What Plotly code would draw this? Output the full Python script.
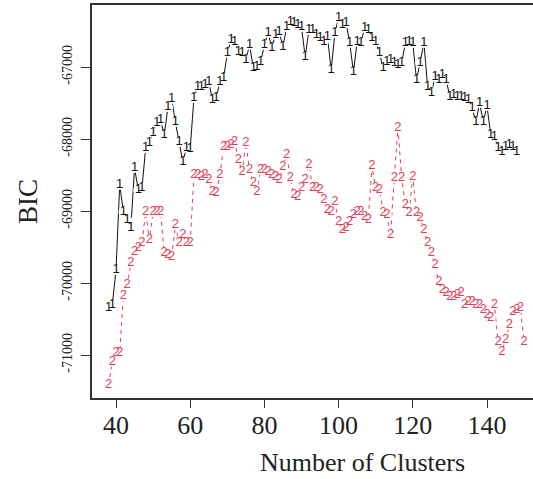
import plotly.graph_objects as go

# Number of clusters
k_model1 = list(range(38, 149))
k_model2 = list(range(38, 151))

bic_model1 = [
    -70347, -70306, -69819, -68639, -69014, -69125, -69236, -68403, -68708, -68681,
    -68125, -68056, -67917, -67778, -67736, -67944, -67556, -67444, -67764, -68042,
    -68319, -68125, -68139, -67431, -67278, -67278, -67250, -67208, -67458, -67431,
    -67208, -67153, -66806, -66625, -66653, -66792, -66806, -66903, -66694, -67014,
    -67000, -66931, -66694, -66528, -66736, -66556, -66514, -66722, -66444, -66375,
    -66389, -66417, -66444, -66861, -66486, -66486, -66556, -66597, -66653, -66583,
    -67042, -66528, -66319, -66417, -66389, -66667, -67069, -66653, -66667, -66458,
    -66486, -66597, -66653, -66806, -67014, -66931, -66903, -66944, -66972, -66944,
    -66667, -66653, -66667, -67181, -66944, -66667, -67278, -67361, -67139, -67181,
    -67111, -67181, -67417, -67389, -67417, -67417, -67431, -67458, -67569, -67764,
    -67500, -67764, -67542, -67944, -67972, -68125, -68181, -68111, -68083, -68111,
    -68181,
]

bic_model2 = [
    -71417, -71097, -70972, -70972, -70181, -70028, -69722, -69569, -69514, -69444,
    -69014, -69403, -69014, -69014, -69014, -69583, -69611, -69639, -69194, -69444,
    -69333, -69444, -69444, -68500, -68500, -68528, -68500, -68569, -68736, -68750,
    -68500, -68111, -68111, -68083, -68042, -68292, -68458, -68056, -68431, -68611,
    -68736, -68431, -68431, -68458, -68500, -68528, -68569, -68389, -68222, -68542,
    -68778, -68806, -68681, -68569, -68361, -68681, -68681, -68708, -68847, -68986,
    -69014, -68875, -69153, -69264, -69236, -69153, -69056, -69014, -69014, -69083,
    -69125, -68375, -68681, -68708, -69028, -69056, -69333, -68542, -67847, -68542,
    -68917, -69028, -68528, -69028, -69097, -69264, -69444, -69583, -69750, -69986,
    -70097, -70139, -70194, -70194, -70167, -70139, -70306, -70264, -70264, -70306,
    -70306, -70375, -70444, -70486, -70306, -70819, -70958, -70792, -70583, -70403,
    -70375, -70347, -70819,
]

x_tick_vals = [40, 60, 80, 100, 120, 140]
y_tick_vals = [-71000, -70000, -69000, -68000, -67000]
y_tick_text = ["-71000", "-70000", "-69000", "-68000", "-67000"]

BLACK = "#111111"
RED = "#E0405A"
SERIF = "Liberation Serif, Times New Roman, serif"
SANS = "Liberation Sans, Arial, sans-serif"

fig = go.Figure()

fig.add_trace(go.Scatter(
    x=k_model1, y=bic_model1, mode="lines+markers+text",
    text=["1"] * len(k_model1), textposition="middle center",
    textfont=dict(family=SANS, size=13, color=BLACK),
    line=dict(color=BLACK, width=1),
    marker=dict(size=10, color="white", line=dict(width=0)),
    showlegend=False, hoverinfo="skip",
))
fig.add_trace(go.Scatter(
    x=k_model2, y=bic_model2, mode="lines+markers+text",
    text=["2"] * len(k_model2), textposition="middle center",
    textfont=dict(family=SANS, size=13, color=RED),
    line=dict(color=RED, width=1, dash="4px,4px"),
    marker=dict(size=10, color="white", line=dict(width=0)),
    showlegend=False, hoverinfo="skip",
))

fig.update_layout(
    width=533, height=479,
    margin=dict(l=92, r=0, t=5, b=81),
    paper_bgcolor="white", plot_bgcolor="white",
    font=dict(family=SERIF, color="black"),
    annotations=[
        dict(text="Number of Clusters", xref="paper", yref="paper",
             x=0.6145, y=-0.163, xanchor="center", yanchor="middle",
             showarrow=False, font=dict(family=SERIF, size=26, color="#222")),
    ],
)

fig.update_xaxes(
    range=[33.53, 152.4], tickvals=x_tick_vals,
    ticks="outside", ticklen=8, tickwidth=1, tickcolor="#333",
    ticklabelstandoff=-5,
    tickfont=dict(family=SERIF, size=26, color="#222"),
    showgrid=False, zeroline=False,
    showline=True, linecolor="#333", linewidth=1.5, mirror=True,
)
fig.update_yaxes(
    range=[-71597, -66139], tickvals=y_tick_vals, ticktext=y_tick_text,
    ticks="outside", ticklen=9, tickwidth=1, tickcolor="#333",
    tickangle=-90, ticklabelstandoff=4,
    tickfont=dict(family=SERIF, size=14, color="#222"),
    showgrid=False, zeroline=False,
    showline=True, linecolor="#333", linewidth=1.5, mirror=False,
    title=dict(text="BIC", font=dict(family=SERIF, size=27, color="#222"), standoff=14),
)

fig.write_html("out.html")
